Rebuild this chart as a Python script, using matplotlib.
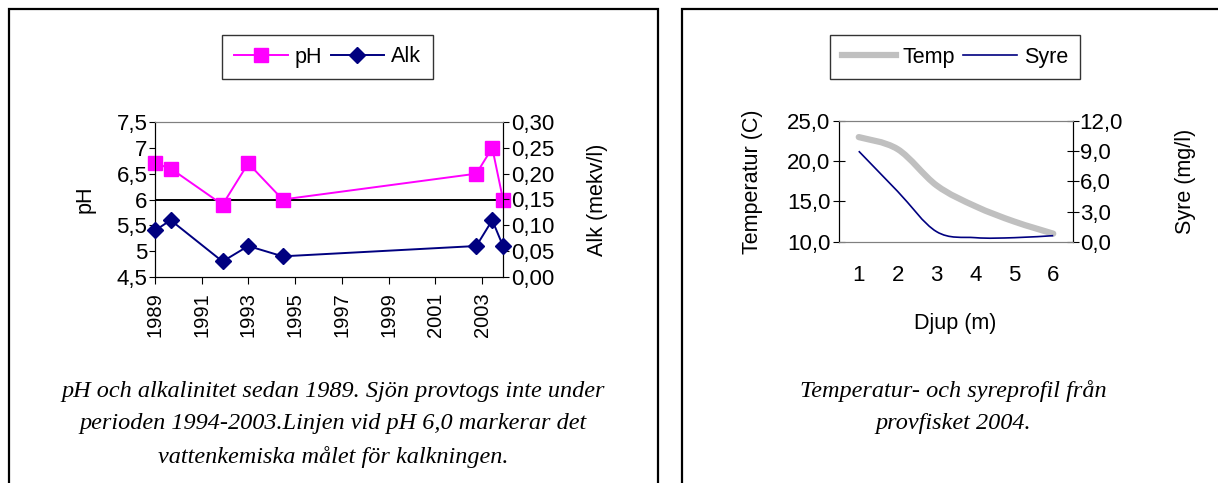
import numpy as np
import matplotlib
matplotlib.use("Agg")
import matplotlib.pyplot as plt
from matplotlib.path import Path
from matplotlib.patches import PathPatch, Rectangle
from matplotlib.lines import Line2D
from matplotlib.ticker import MultipleLocator, FuncFormatter

# --- pH and alkalinity, sampling dates as decimal years ---
years = [1989.0, 1989.67, 1991.89, 1992.99, 1994.46, 2002.75, 2003.43, 2003.89]
ph = [6.7, 6.6, 5.9, 6.7, 6.0, 6.5, 7.0, 6.0]
alk = [0.09, 0.11, 0.03, 0.06, 0.04, 0.06, 0.11, 0.06]
year_ticks = [1989, 1991, 1993, 1995, 1997, 1999, 2001, 2003]
ph_target = 6.0

# --- depth profile from the 2004 test fishing ---
depth = ["1", "2", "3", "4", "5", "6"]
temp = [23.0, 21.5, 17.0, 14.4, 12.5, 11.0]
syre = [9.0, 5.0, 1.0, 0.4, 0.4, 0.6]

W, H = 1218, 483
TICK_FS = 16
LABEL_FS = 15.5
plt.rcParams["font.family"] = ["Liberation Sans", "DejaVu Sans"]
plt.rcParams["font.size"] = LABEL_FS
fig = plt.figure(figsize=(W / 100, H / 100), dpi=100)


def px_axes(x0, y0, x1, y1):
    return fig.add_axes([x0 / W, 1 - y1 / H, (x1 - x0) / W, (y1 - y0) / H])


def comma(fmt):
    return FuncFormatter(lambda v, p: (fmt % v).replace(".", ","))


def smooth_path(x, y):
    """Cubic Bezier path through the points (Catmull-Rom style smoothing)."""
    x = np.asarray(x, float)
    y = np.asarray(y, float)
    pts = np.column_stack([x, y])
    n = len(pts)
    verts = [pts[0]]
    codes = [Path.MOVETO]
    for i in range(n - 1):
        p0 = pts[i - 1] if i > 0 else pts[i]
        p1 = pts[i]
        p2 = pts[i + 1]
        p3 = pts[i + 2] if i + 2 < n else pts[i + 1]
        c1 = p1 + (p2 - p0) / 6.0
        c2 = p2 - (p3 - p1) / 6.0
        verts += [c1, c2, p2]
        codes += [Path.CURVE4] * 3
    return Path(verts, codes)


# Panel frames
fig.patches.append(Rectangle((9 / W, -0.1), (658 - 9) / W, 1.1 - 9 / H,
                             transform=fig.transFigure, fill=False,
                             edgecolor="black", linewidth=1.6))
fig.patches.append(Rectangle((682 / W, -0.1), 0.6, 1.1 - 9 / H,
                             transform=fig.transFigure, fill=False,
                             edgecolor="black", linewidth=1.6))

# ---------------- Left chart ----------------
ax1 = px_axes(155, 122, 503, 277)
ax2 = ax1.twinx()
ax1.set_xlim(years[0], years[-1])
ax1.set_ylim(4.5, 7.5)
ax2.set_ylim(0, 0.30)
ax1.yaxis.set_major_locator(MultipleLocator(0.5))
ax1.yaxis.set_major_formatter(FuncFormatter(
    lambda v, p: ("%g" % v).replace(".", ",")))
ax2.yaxis.set_major_locator(MultipleLocator(0.05))
ax2.yaxis.set_major_formatter(comma("%.2f"))
ax1.set_xticks(year_ticks)
ax1.set_xticklabels([str(y) for y in year_ticks], rotation=90)

ax1.axhline(ph_target, color="black", linewidth=1.4, zorder=2)
ax1.plot(years, ph, color="#FF00FF", linewidth=1.4, marker="s",
         markersize=9.5, markerfacecolor="#FF00FF", markeredgecolor="#FF00FF",
         clip_on=False, zorder=4)
ax2.plot(years, alk, color="#000080", linewidth=1.4, marker="D",
         markersize=8.5, markerfacecolor="#000080", markeredgecolor="#000080",
         clip_on=False, zorder=4)

for a in (ax1, ax2):
    a.spines["top"].set_color("#808080")
    for s in ("left", "right", "bottom"):
        a.spines[s].set_color("black")
    a.set_facecolor("none")
ax1.tick_params(axis="y", direction="out", length=4, pad=1.5,
                labelsize=TICK_FS)
ax2.tick_params(axis="y", direction="out", length=4, pad=1.5,
                labelsize=TICK_FS)
ax1.tick_params(axis="x", direction="out", length=5, pad=6,
                labelsize=TICK_FS - 1.5)
ax1.set_ylabel("pH")
ax1.yaxis.set_label_coords(-0.172, 0.5)
ax2.set_ylabel("Alk (mekv/l)")
ax2.yaxis.set_label_coords(1.241, 0.5)

h_ph = Line2D([], [], color="#FF00FF", linewidth=1.4, marker="s",
              markersize=9.5)
h_alk = Line2D([], [], color="#000080", linewidth=1.4, marker="D",
               markersize=8.5)
leg1 = fig.legend([h_ph, h_alk], ["pH", "Alk"], loc="center",
                  bbox_to_anchor=(327.5 / W, 1 - 57 / H), ncol=2,
                  frameon=True, fancybox=False, edgecolor="black",
                  handlelength=2.5, handletextpad=0.3, columnspacing=0.4,
                  borderpad=0.55, borderaxespad=0, fontsize=LABEL_FS)
leg1.get_frame().set_linewidth(1.0)

# ---------------- Right chart ----------------
bx1 = px_axes(839.3, 121, 1072.7, 241.7)
bx2 = bx1.twinx()
pos = np.arange(len(depth))
bx1.set_xlim(-0.5, len(depth) - 0.5)
bx1.set_ylim(10, 25)
bx2.set_ylim(0, 12)
bx1.yaxis.set_major_locator(MultipleLocator(5))
bx1.yaxis.set_major_formatter(comma("%.1f"))
bx2.yaxis.set_major_locator(MultipleLocator(3))
bx2.yaxis.set_major_formatter(comma("%.1f"))
bx1.set_xticks(pos)
bx1.set_xticklabels(depth)

bx1.add_patch(PathPatch(smooth_path(pos, temp), facecolor="none",
                        edgecolor="#C0C0C0", linewidth=4.5,
                        capstyle="round", joinstyle="round", zorder=3))
bx2.add_patch(PathPatch(smooth_path(pos, syre), facecolor="none",
                        edgecolor="#000080", linewidth=1.2, zorder=4))

for a in (bx1, bx2):
    a.spines["top"].set_color("#808080")
    a.spines["bottom"].set_color("#808080")
    a.spines["left"].set_color("black")
    a.spines["right"].set_color("black")
    a.set_facecolor("none")
bx1.tick_params(axis="y", direction="inout", length=9, pad=2,
                labelsize=TICK_FS)
bx2.tick_params(axis="y", direction="inout", length=9, pad=0.5,
                labelsize=TICK_FS)
bx1.tick_params(axis="x", length=0, pad=17, labelsize=TICK_FS)
bx1.set_ylabel("Temperatur (C)")
bx1.yaxis.set_label_coords(-0.327, 0.5)
bx2.set_ylabel("Syre (mg/l)")
bx2.yaxis.set_label_coords(1.438, 0.5)
bx1.set_xlabel("Djup (m)")
bx1.xaxis.set_label_coords(0.496, -0.59)

h_t = Line2D([], [], color="#C0C0C0", linewidth=4.5)
h_s = Line2D([], [], color="#000080", linewidth=1.2)
leg2 = fig.legend([h_t, h_s], ["Temp", "Syre"], loc="center",
                  bbox_to_anchor=(955 / W, 1 - 57 / H), ncol=2,
                  frameon=True, fancybox=False, edgecolor="black",
                  handlelength=2.5, handletextpad=0.3, columnspacing=0.4,
                  borderpad=0.55, borderaxespad=0, fontsize=LABEL_FS)
leg2.get_frame().set_linewidth(1.0)

# ---------------- Captions ----------------
cap = dict(family=["Liberation Serif", "DejaVu Serif"], style="italic",
           fontsize=17.5, ha="center", va="center")
left_lines = ["pH och alkalinitet sedan 1989. Sjön provtogs inte under",
              "perioden 1994-2003.Linjen vid pH 6,0 markerar det",
              "vattenkemiska målet för kalkningen."]
for i, t in enumerate(left_lines):
    fig.text(333.5 / W, 1 - (391 + 33 * i) / H, t, **cap)
right_lines = ["Temperatur- och syreprofil från", "provfisket 2004."]
for i, t in enumerate(right_lines):
    fig.text(953 / W, 1 - (391 + 33 * i) / H, t, **cap)

fig.savefig("out.png", dpi=100)
